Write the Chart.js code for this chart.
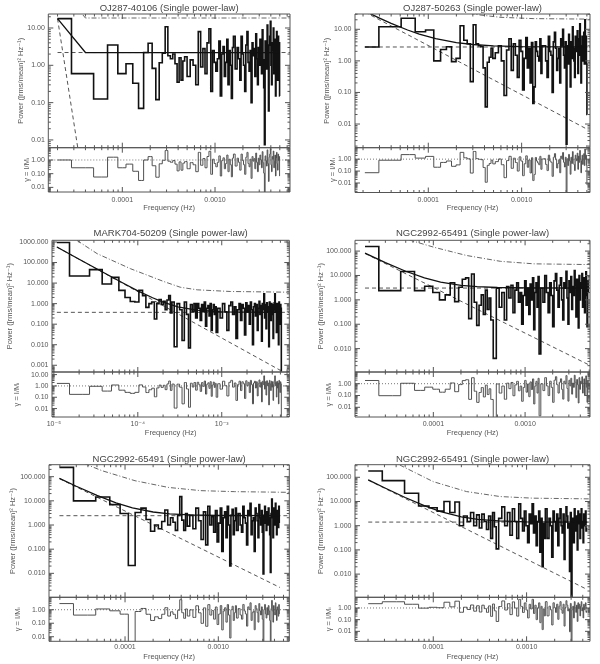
<!DOCTYPE html>
<html lang="en">
<head>
<meta charset="UTF-8">
<title>Periodograms - single power-law fits</title>
<script src="https://cdn.jsdelivr.net/npm/chart.js"></script>
<style>
  body { margin: 0; background: #fff; }
  #page { position: relative; width: 600px; height: 664px; overflow: hidden; background: #fff; }
  #page canvas { position: absolute; }
</style>
</head>
<body>
<div id="page"></div>
<script>
// titles of the six panels
const titles = [
  'OJ287-40106 (Single power-law)',
  'OJ287-50263 (Single power-law)',
  'MARK704-50209 (Single power-law)',
  'NGC2992-65491 (Single power-law)',
  'NGC2992-65491 (Single power-law)',
  'NGC2992-65491 (Single power-law)'
];

// tick values and labels
const decTicksX = [1e-4, 1e-3];
const decLabelsX = ['0.0001', '0.0010'];
const supTicksX = [1e-5, 1e-4, 1e-3];
const supLabelsX = ['10⁻⁵', '10⁻⁴', '10⁻³'];
const powTicks2 = [0.01, 0.1, 1, 10];
const powLabels2 = ['0.01', '0.10', '1.00', '10.00'];
const powTicks3 = [0.001, 0.01, 0.1, 1, 10, 100, 1000];
const powLabels3 = ['0.001', '0.010', '0.100', '1.000', '10.000', '100.000', '1000.000'];
const gamTicks = [0.01, 0.1, 1, 10];
const gamLabels = ['0.01', '0.10', '1.00', '10.00'];

// power per harmonic k = 1..24, then 26..80 by 2, then from 85 by the panel stride
// ---- panel 1 : OJ287-40106 ----
const p1F0 = 2.0e-5;
const p1Power = [17.8, 0.6, 0.125, 3.5, 0.6, 1.1, 0.33, 0.07, 2.2, 3.9, 0.83, 0.12, 1.17, 2.1, 10.8, 1.8, 1.5, 2.0, 1.1, 0.35, 1.6, 0.4, 1.3, 1.7,
  0.5, 1.4, 1.0, 0.3, 8.0, 0.9, 2.8, 0.6, 4.0, 9.5, 0.2, 2.5, 1.2, 0.7, 1.5, 4.5, 0.15, 2.0, 3.2, 0.5, 1.2, 5.0, 0.3, 2.5, 1.0, 0.13, 3.0, 6.0,
  0.8, 3.0, 1.5, 0.4, 6.0, 2.0, 1.0, 0.2, 3.5, 8.0, 1.2, 0.7, 2.5, 0.1, 4.0, 1.8, 2.8, 0.5, 7.0, 1.5,
  0.3, 3.0, 1.0, 5.0, 2.2, 0.6, 9.0, 1.4, 0.25, 0.0075, 4.5, 2.0, 0.8, 12.0, 1.2, 0.06, 3.5, 6.0, 15.0, 1.0,
  0.3, 4.0, 2.5, 10.0, 0.6, 1.8, 5.0, 0.15, 3.0, 8.0, 1.2, 0.4, 6.0, 2.0, 4.0, 0.15];
const p1Gamma = [1.0, 0.27, 0.057, 1.6, 0.27, 0.5, 0.15, 0.032, 1.0, 1.77, 0.38, 0.055, 0.53, 0.95, 4.9, 0.82, 0.68, 0.91, 0.5, 0.16, 0.73, 0.18, 0.59, 0.77,
  0.23, 0.64, 0.45, 0.14, 3.6, 0.41, 1.27, 0.27, 1.8, 4.3, 0.09, 1.14, 0.55, 0.32, 0.68, 2.0, 0.068, 0.91, 1.45, 0.23, 0.55, 2.3, 0.14, 1.14, 0.45, 0.059, 1.36, 2.7,
  0.36, 1.36, 0.68, 0.18, 2.7, 0.91, 0.45, 0.09, 1.6, 3.6, 0.55, 0.32, 1.14, 0.045, 1.8, 0.82, 1.27, 0.23, 3.2, 0.68,
  0.14, 1.36, 0.45, 2.3, 1.0, 0.27, 4.1, 0.64, 0.11, 0.0034, 2.0, 0.91, 0.36, 5.5, 0.55, 0.027, 1.6, 2.7, 6.8, 0.45,
  0.14, 1.8, 1.14, 4.5, 0.27, 0.82, 2.3, 0.068, 1.36, 3.6, 0.55, 0.18, 2.7, 0.91, 1.8, 0.068];
const p1ModelF = [2.0e-5, 4.0e-5, 5.0e-3];
const p1ModelP = [17.8, 2.2, 2.2];
const p1SlopeF = [2.0e-5, 3.6e-5];
const p1SlopeP = [17.8, 0.0016];
const p1Level = 2.2;
const p1SigF = [2.0e-5, 4.0e-5, 6.4e-3];
const p1SigP = [150, 18.5, 18.5];

// ---- panel 2 : OJ287-50263 ----
const p2F0 = 2.09e-5;
const p2Power = [2.75, 12.1, 22.3, 8.4, 9.5, 1.0, 2.3, 2.8, 0.95, 1.2, 13, 4.5, 3.5, 0.22, 14, 3.5, 3.0, 2.8, 0.6, 0.035, 0.9, 1.3, 2.5, 1.2,
  1.8, 3.0, 1.0, 0.08, 2.2, 5.0, 0.5, 3.5, 1.5, 0.3, 4.5, 2.0, 0.12, 1.2, 5.5, 0.6, 2.5, 0.2, 3.8, 0.045, 0.15, 4.0, 2.0, 1.4, 1.0, 5.0, 0.4, 3.0,
  3.0, 1.0, 0.3, 6.0, 2.0, 1.5, 0.1, 4.0, 8.0, 2.5, 0.5, 1.2, 2.5, 0.2, 5.0, 3.0, 10.0, 1.5, 0.6, 4.0,
  0.0023, 3.0, 0.8, 7.0, 2.0, 0.15, 4.0, 1.2, 12.0, 2.5, 1.0, 0.3, 6.0, 3.0, 2.0, 9.0, 0.4, 5.0, 1.5, 15.0,
  3.0, 0.2, 2.0, 6.0, 1.0, 5.0, 8.0, 0.8, 20.0, 3.0, 6.0, 0.8, 0.02];
const p2Gamma = [0.073, 0.81, 2.4, 1.22, 1.7, 0.21, 0.53, 0.7, 0.25, 0.33, 3.7, 1.3, 1.06, 0.068, 4.4, 1.1, 0.97, 0.9, 0.2, 0.0115, 0.3, 0.43, 0.83, 0.4,
  0.62, 1.03, 0.34, 0.028, 0.76, 1.72, 0.17, 1.2, 0.52, 0.1, 1.55, 0.69, 0.041, 0.41, 1.9, 0.21, 0.86, 0.069, 1.31, 0.016, 0.052, 1.38, 0.69, 0.48, 0.34, 1.72, 0.14, 1.03,
  1.08, 0.36, 0.11, 2.16, 0.72, 0.54, 0.036, 1.44, 2.9, 0.9, 0.18, 0.43, 0.9, 0.072, 1.8, 1.08, 3.6, 0.54, 0.22, 1.44,
  0.0008, 1.08, 0.29, 2.5, 0.72, 0.054, 1.44, 0.43, 4.3, 0.9, 0.36, 0.11, 2.16, 1.08, 0.72, 3.2, 0.14, 1.8, 0.54, 5.4,
  1.08, 0.072, 0.72, 2.16, 0.36, 1.8, 2.9, 0.29, 7.2, 1.08, 2.16, 0.29, 0.0072];
const p2ModelF = [2.09e-5, 3e-5, 4e-5, 6e-5, 8e-5, 1.2e-4, 2e-4, 3e-4, 5e-4, 1e-3, 5.06e-3];
const p2ModelP = [37.7, 22.7, 15.4, 9.5, 7.05, 5.04, 3.78, 3.30, 3.0, 2.83, 2.76];
const p2SlopeF = [2.09e-5, 5.06e-3];
const p2SlopeP = [35, 0.0068];
const p2Level = 2.75;
const p2SigF = [1.7e-4, 3.58e-4, 5.87e-4, 1.33e-3, 5.4e-3];
const p2SigP = [41, 28.4, 24, 21.8, 21];

// ---- panel 3 : MARK704-50209 ----
const p3F0 = 1.086e-5;
const p3Power = [950, 22, 45, 9, 19, 4.4, 2.0, 1.26, 1.2, 4.4, 2.4, 0.66, 1.0, 1.2, 0.18, 1.0, 1.6, 0.9, 1.3, 0.5, 1.5, 2.5, 0.35, 1.2,
  0.008, 1.0, 0.5, 0.016, 1.2, 0.3, 0.007, 0.9, 0.4, 1.0, 0.2, 1.0, 0.6, 0.15, 0.9, 0.4, 1.2, 0.08, 0.6, 0.8, 0.25, 1.0, 0.05, 0.5, 0.9, 0.3, 0.7, 0.04,
  0.6, 0.2, 1.0, 0.4, 0.05, 0.8, 1.2, 0.3, 0.7, 0.02, 0.5, 1.0, 0.15, 0.9, 0.6, 0.03, 1.1, 0.4, 0.8, 0.1,
  1.2, 0.5, 0.01, 0.7, 1.0, 0.25, 0.9, 0.05, 0.6, 1.3, 0.3, 0.8, 0.015, 1.0, 0.5, 3.0, 0.2, 0.9, 0.06, 1.1,
  0.4, 0.7, 0.008, 1.2, 0.6, 0.15, 1.0, 0.3, 0.9, 0.02, 0.5, 1.1, 3.0, 0.4, 0.8, 0.04, 1.0, 0.25, 0.7, 0.01,
  1.2, 0.5, 0.1, 0.9, 0.6, 0.0005];
const p3Gamma = [1.67, 0.18, 0.93, 0.35, 1.21, 0.42, 0.27, 0.22, 0.27, 1.23, 0.81, 0.26, 0.46, 0.63, 0.11, 0.67, 1.18, 0.73, 1.14, 0.47, 1.5, 2.7, 0.4, 1.46,
  0.011, 1.43, 0.77, 0.026, 2.0, 0.54, 0.013, 1.73, 0.8, 2.0, 0.42, 2.1, 1.3, 0.33, 2.0, 0.9, 2.7, 0.19, 1.4, 1.9, 0.6, 2.4, 0.12, 1.2, 2.2, 0.73, 1.7, 0.1,
  1.56, 0.52, 2.6, 1.04, 0.13, 2.08, 3.1, 0.78, 1.82, 0.052, 1.3, 2.6, 0.39, 2.34, 1.56, 0.078, 2.86, 1.04, 2.08, 0.26,
  3.1, 1.3, 0.026, 1.82, 2.6, 0.65, 2.34, 0.13, 1.56, 3.4, 0.78, 2.08, 0.039, 2.6, 1.3, 7.8, 0.52, 2.34, 0.156, 2.86,
  1.04, 1.82, 0.021, 3.1, 1.56, 0.39, 2.6, 0.78, 2.34, 0.052, 1.3, 2.86, 7.8, 1.04, 2.08, 0.104, 2.6, 0.65, 1.82, 0.026,
  3.1, 1.3, 0.26, 2.34, 1.56, 0.0013];
const p3ModelF = [1.086e-5, 2e-5, 4e-5, 7e-5, 1e-4, 1.5e-4, 2e-4, 3e-4, 5e-4, 1e-3, 5.18e-3];
const p3ModelP = [570, 145, 30.8, 9.0, 4.2, 1.93, 1.19, 0.70, 0.48, 0.40, 0.378];
const p3SlopeF = [1.086e-5, 5.18e-3];
const p3SlopeP = [570, 0.00052];
const p3Level = 0.377;
const p3SigF = [1.88e-5, 3.28e-5, 8.2e-5, 2.04e-4, 3.2e-4, 5.1e-4, 1.27e-3, 6.4e-3];
const p3SigP = [1200, 270, 50, 11.9, 6.3, 4.7, 3.9, 3.6];

// ---- panel 4 : NGC2992-65491 ----
const p4F0 = 1.8e-5;
const p4Power = [155, 2.4, 14.5, 2.4, 3.6, 2.0, 1.0, 1.6, 5.0, 0.85, 3.3, 7.0, 8.0, 0.17, 11.5, 0.8, 0.09, 0.6, 1.6, 0.25, 2.5, 0.4, 1.2, 0.15,
  0.004, 3.0, 0.5, 2.0, 0.15, 3.5, 1.2, 4.0, 0.3, 2.5, 5.0, 0.8, 2.0, 0.1, 1.5, 6.0, 0.6, 3.0, 0.25, 4.5, 1.0, 8.0, 0.06, 2.0, 5.0, 0.5, 9.0, 0.006,
  3.0, 0.8, 10.0, 2.0, 0.3, 5.0, 1.5, 0.08, 6.0, 12.0, 2.5, 0.5, 4.0, 8.0, 1.0, 0.15, 5.0, 3.0, 15.0, 1.2,
  0.1, 6.0, 2.0, 9.0, 0.4, 3.5, 1.5, 16.0, 4.0, 0.2, 7.0, 2.5, 0.07, 10.0, 1.0, 5.0, 3.0, 12.0, 0.5, 2.0,
  8.0, 0.3, 4.0, 14.0, 1.5, 0.08, 6.0, 2.0];
const p4Gamma = [1.87, 0.096, 1.09, 0.27, 0.51, 0.34, 0.19, 0.34, 1.15, 0.21, 0.84, 1.83, 2.16, 0.047, 3.2, 0.23, 0.026, 0.18, 0.47, 0.075, 0.75, 0.12, 0.37, 0.046,
  0.0013, 0.95, 0.16, 0.63, 0.048, 1.11, 0.38, 1.27, 0.095, 0.79, 1.59, 0.25, 0.63, 0.032, 0.48, 1.9, 0.19, 0.95, 0.079, 1.43, 0.32, 2.54, 0.019, 0.63, 1.59, 0.16, 2.86, 0.0019,
  0.98, 0.26, 3.27, 0.65, 0.098, 1.63, 0.49, 0.026, 1.96, 3.9, 0.82, 0.16, 1.31, 2.6, 0.33, 0.049, 1.63, 0.98, 4.9, 0.39,
  0.033, 1.96, 0.65, 2.9, 0.13, 1.14, 0.49, 5.2, 1.31, 0.065, 2.29, 0.82, 0.023, 3.27, 0.33, 1.63, 0.98, 3.9, 0.16, 0.65,
  2.6, 0.098, 1.31, 4.6, 0.49, 0.026, 1.96, 0.65];
const p4ModelF = [1.8e-5, 3e-5, 5e-5, 8e-5, 1.2e-4, 2e-4, 3e-4, 5e-4, 1e-3, 4.91e-3];
const p4ModelP = [83, 33.9, 14.9, 8.0, 5.35, 3.93, 3.46, 3.21, 3.09, 3.05];
const p4SlopeF = [1.8e-5, 4.91e-3];
const p4SlopeP = [80, 0.0022];
const p4Level = 3.05;
const p4SigF = [4.3e-5, 1e-4, 2.3e-4, 5.4e-4, 1.25e-3, 5.1e-3];
const p4SigP = [374, 146, 66, 38, 30, 28];

// ---- panel 5 : NGC2992-65491 ----
const p5F0 = 1.98e-5;
const p5Power = [243, 10, 14.5, 7.0, 3.0, 0.021, 3.3, 5.0, 1.7, 0.55, 1.0, 0.7, 1.4, 4.2, 1.0, 2.0, 1.3, 0.6, 2.5, 15, 1.6, 0.6, 3.0, 0.9,
  2.5, 0.7, 5.0, 1.5, 0.25, 3.5, 0.15, 6.0, 1.0, 2.2, 0.5, 4.0, 0.2, 1.2, 5.0, 0.08, 2.0, 3.5, 0.3, 6.0, 1.0, 0.02, 2.5, 4.5, 0.4, 1.5, 5.0, 0.6,
  3.0, 1.0, 0.5, 6.0, 2.0, 1.2, 0.15, 4.0, 2.5, 8.0, 0.4, 1.5, 2.0, 0.08, 5.0, 3.0, 1.5, 0.3, 7.0, 2.0,
  1.0, 4.0, 0.5, 0.0095, 2.5, 6.0, 1.2, 0.6, 3.5, 1.0, 5.0, 2.0, 0.4, 0.011, 3.0, 12.0, 2.0, 0.3, 5.0, 1.5,
  1.0, 8.0, 2.5, 0.4, 4.0, 2.5, 0.8, 6.0, 1.2];
const p5Gamma = [2.85, 0.4, 1.14, 0.83, 0.47, 0.004, 0.74, 1.24, 0.46, 0.16, 0.3, 0.22, 0.46, 1.41, 0.34, 0.7, 0.46, 0.22, 0.91, 5.5, 0.6, 0.23, 1.14, 0.34,
  0.98, 0.27, 1.96, 0.59, 0.098, 1.37, 0.059, 2.37, 0.4, 0.87, 0.2, 1.59, 0.08, 0.48, 2.0, 0.032, 0.8, 1.4, 0.12, 2.4, 0.4, 0.008, 1.0, 1.8, 0.16, 0.6, 2.0, 0.24,
  1.22, 0.41, 0.2, 2.45, 0.82, 0.49, 0.061, 1.63, 1.02, 3.27, 0.16, 0.61, 0.82, 0.033, 2.04, 1.22, 0.61, 0.12, 2.86, 0.82,
  0.41, 1.63, 0.2, 0.0039, 1.02, 2.45, 0.49, 0.24, 1.43, 0.41, 2.04, 0.82, 0.16, 0.004, 1.22, 4.9, 0.82, 0.12, 2.04, 0.61,
  0.41, 3.27, 1.02, 0.16, 1.63, 1.02, 0.33, 2.45, 0.49];
const p5ModelF = [1.98e-5, 3e-5, 5e-5, 8e-5, 1.2e-4, 2e-4, 3e-4, 5e-4, 1e-3, 4.58e-3];
const p5ModelP = [85.4, 40.1, 16.7, 8.26, 5.14, 3.45, 2.9, 2.61, 2.48, 2.43];
const p5SlopeF = [1.98e-5, 4.58e-3];
const p5SlopeP = [83, 0.0026];
const p5Level = 2.43;
const p5SigF = [2.92e-5, 5.66e-5, 1.28e-4, 2.9e-4, 6.5e-4, 1.5e-3, 5.77e-3];
const p5SigP = [489, 177, 68, 36, 26.4, 24, 22.5];

// ---- panel 6 : NGC2992-65491 ----
const p6F0 = 2.01e-5;
const p6Power = [182, 73, 22, 6.5, 5.5, 4.0, 10, 3.5, 9.5, 1.0, 2.5, 1.5, 3.5, 1.0, 2.8, 0.8, 3.0, 1.5, 0.7, 2.5, 0.3, 3.5, 0.9, 0.11,
  2.0, 6.0, 1.0, 3.5, 0.4, 5.0, 1.5, 0.3, 8.0, 2.0, 0.6, 4.0, 1.0, 0.2, 3.0, 1.2, 8.0, 0.5, 2.5, 0.15, 1.5, 4.0, 0.08, 2.0, 0.02, 1.2, 0.3, 5.0,
  0.3, 2.0, 1.0, 0.05, 4.0, 1.5, 0.6, 3.0, 0.15, 2.0, 5.0, 1.0, 0.5, 3.0, 0.04, 1.5, 6.0, 2.5, 0.8, 1.2,
  0.013, 3.5, 0.0005, 1.0, 2.0, 0.2, 5.0, 1.5, 0.6, 2.5, 0.1, 4.0, 1.2, 3.0, 0.3, 2.0, 5.0, 0.8, 1.5, 0.2,
  3.0, 1.0, 2.0, 4.0, 0.6, 0.8];
const p6Gamma = [2.33, 3.4, 2.08, 0.97, 1.14, 1.05, 3.1, 1.25, 3.8, 0.43, 1.16, 0.74, 1.8, 0.53, 1.54, 0.45, 1.73, 0.88, 0.42, 1.52, 0.19, 2.2, 0.57, 0.07,
  1.33, 4.0, 0.67, 2.33, 0.27, 3.33, 1.0, 0.2, 5.4, 1.36, 0.41, 2.7, 0.68, 0.14, 2.05, 0.82, 5.5, 0.34, 1.72, 0.1, 1.03, 2.76, 0.055, 1.38, 0.014, 0.83, 0.21, 3.47,
  0.21, 1.41, 0.7, 0.035, 2.8, 1.06, 0.42, 2.1, 0.106, 1.41, 3.5, 0.7, 0.35, 2.1, 0.028, 1.06, 4.2, 1.76, 0.56, 0.85,
  0.0092, 2.46, 0.00035, 0.7, 1.41, 0.14, 3.5, 1.06, 0.42, 1.76, 0.07, 2.8, 0.85, 2.1, 0.21, 1.41, 3.5, 0.56, 1.06, 0.14,
  2.1, 0.7, 1.41, 2.8, 0.42, 0.56];
const p6ModelF = [2.01e-5, 3e-5, 5e-5, 8e-5, 1.2e-4, 2e-4, 3e-4, 5e-4, 1e-3, 4.47e-3];
const p6ModelP = [78, 36.9, 14.6, 6.75, 3.85, 2.32, 1.83, 1.57, 1.45, 1.41];
const p6SlopeF = [2.01e-5, 4.47e-3];
const p6SlopeP = [76.6, 0.0023];
const p6Level = 1.41;
const p6SigF = [3.6e-5, 4.4e-5, 1e-4, 2.27e-4, 5.2e-4, 1.17e-3, 4.8e-3];
const p6SigP = [600, 318, 66, 25.7, 16, 13.7, 12.8];

Chart.defaults.font.family = "'Liberation Sans', Arial, 'DejaVu Sans', sans-serif";
Chart.defaults.font.size = 7.5;
Chart.defaults.color = '#555';

// harmonic numbers of the plotted periodogram bins
function harmonics(n, stride) {
  const k = [];
  for (let i = 1; i <= 24 && k.length < n; i++) k.push(i);
  for (let i = 26; i <= 80 && k.length < n; i += 2) k.push(i);
  for (let i = 85; k.length < n; i += stride) k.push(i);
  return k;
}

function logMarks(min, max) {
  const out = [];
  for (let e = Math.floor(Math.log10(min)); e <= Math.ceil(Math.log10(max)); e++) {
    for (let m = 1; m <= 9; m++) {
      const v = m * Math.pow(10, e);
      if (v >= min && v <= max) out.push({ v, major: m === 1 });
    }
  }
  return out;
}

// box with inward ticks on all four sides, like the IDL plots
const idlFrame = {
  id: 'idlFrame',
  afterDatasetsDraw(chart) {
    const { ctx, chartArea: a, scales: { x, y } } = chart;
    ctx.save();
    ctx.strokeStyle = '#555';
    ctx.lineWidth = 1;
    ctx.beginPath();
    ctx.rect(a.left, a.top, a.right - a.left, a.bottom - a.top);
    for (const t of logMarks(x.min, x.max)) {
      const px = x.getPixelForValue(t.v), len = t.major ? 5 : 2.5;
      ctx.moveTo(px, a.bottom); ctx.lineTo(px, a.bottom - len);
      ctx.moveTo(px, a.top); ctx.lineTo(px, a.top + len);
    }
    for (const t of logMarks(y.min, y.max)) {
      const py = y.getPixelForValue(t.v), len = t.major ? 5 : 2.5;
      ctx.moveTo(a.left, py); ctx.lineTo(a.left + len, py);
      ctx.moveTo(a.right, py); ctx.lineTo(a.right - len, py);
    }
    ctx.stroke();
    ctx.restore();
  }
};

function addCanvas(left, top, w, h) {
  const c = document.createElement('canvas');
  c.width = w; c.height = h;
  c.style.left = left + 'px';
  c.style.top = top + 'px';
  document.getElementById('page').appendChild(c);
  return c;
}

const panels = [
  { title: titles[0], f0: p1F0, stride: 3, power: p1Power, gamma: p1Gamma, modelF: p1ModelF, modelP: p1ModelP,
    slopeF: p1SlopeF, slopeP: p1SlopeP, level: p1Level, sigF: p1SigF, sigP: p1SigP,
    xTicks: decTicksX, xLabels: decLabelsX, yTicks: powTicks2, yLabels: powLabels2,
    xRange: [1.59e-5, 6.44e-3], yRange: [0.0062, 23.7], gRange: [0.0046, 7.9],
    colX: 0, rowTop: 0, plotL: 48.3, plotR: 290, chartTop: 14, mainBottom: 147.7, gammaBottom: 192,
    titleY: 8, xLabelY: 200, xTitleY: 208.3, yTitleX: 21, gTitleX: 26.7 },
  { title: titles[1], f0: p2F0, stride: 3, power: p2Power, gamma: p2Gamma, modelF: p2ModelF, modelP: p2ModelP,
    slopeF: p2SlopeF, slopeP: p2SlopeP, level: p2Level, sigF: p2SigF, sigP: p2SigP,
    xTicks: decTicksX, xLabels: decLabelsX, yTicks: powTicks2, yLabels: powLabels2,
    xRange: [1.64e-5, 5.4e-3], yRange: [0.00178, 30.5], gRange: [0.0016, 9.1],
    colX: 300, rowTop: 0, plotL: 355, plotR: 590, chartTop: 14, mainBottom: 147.7, gammaBottom: 192.5,
    titleY: 8, xLabelY: 200, xTitleY: 208.3, yTitleX: 327.3, gTitleX: 333.3 },
  { title: titles[2], f0: p3F0, stride: 6, power: p3Power, gamma: p3Gamma, modelF: p3ModelF, modelP: p3ModelP,
    slopeF: p3SlopeF, slopeP: p3SlopeP, level: p3Level, sigF: p3SigF, sigP: p3SigP,
    xTicks: supTicksX, xLabels: supLabelsX, yTicks: powTicks3, yLabels: powLabels3,
    xRange: [9.5e-6, 6.38e-3], yRange: [4.7e-4, 1210], gRange: [0.0018, 17],
    colX: 0, rowTop: 222, plotL: 52, plotR: 289.3, chartTop: 240.3, mainBottom: 372, gammaBottom: 417,
    titleY: 233.7, xLabelY: 423.7, xTitleY: 432.7, yTitleX: 10, gTitleX: 16.7 },
  { title: titles[3], f0: p4F0, stride: 4, power: p4Power, gamma: p4Gamma, modelF: p4ModelF, modelP: p4ModelP,
    slopeF: p4SlopeF, slopeP: p4SlopeP, level: p4Level, sigF: p4SigF, sigP: p4SigP,
    xTicks: decTicksX, xLabels: decLabelsX, yTicks: powTicks3, yLabels: powLabels3,
    xRange: [1.4e-5, 5.1e-3], yRange: [0.0011, 277], gRange: [0.0015, 9.8],
    colX: 300, rowTop: 222, plotL: 355, plotR: 590, chartTop: 240.3, mainBottom: 372, gammaBottom: 417,
    titleY: 233.7, xLabelY: 423.7, xTitleY: 432.7, yTitleX: 320.5, gTitleX: 328.5 },
  { title: titles[4], f0: p5F0, stride: 3, power: p5Power, gamma: p5Gamma, modelF: p5ModelF, modelP: p5ModelP,
    slopeF: p5SlopeF, slopeP: p5SlopeP, level: p5Level, sigF: p5SigF, sigP: p5SigP,
    xTicks: decTicksX, xLabels: decLabelsX, yTicks: powTicks3, yLabels: powLabels3,
    xRange: [1.53e-5, 5.77e-3], yRange: [0.00102, 313], gRange: [0.0046, 8.3],
    colX: 0, rowTop: 444, plotL: 49, plotR: 289.3, chartTop: 464.7, mainBottom: 597.3, gammaBottom: 641.3,
    titleY: 459, xLabelY: 646.7, xTitleY: 657.3, yTitleX: 12.7, gTitleX: 18.3 },
  { title: titles[5], f0: p6F0, stride: 3, power: p6Power, gamma: p6Gamma, modelF: p6ModelF, modelP: p6ModelP,
    slopeF: p6SlopeF, slopeP: p6SlopeP, level: p6Level, sigF: p6SigF, sigP: p6SigP,
    xTicks: decTicksX, xLabels: decLabelsX, yTicks: powTicks3, yLabels: powLabels3,
    xRange: [1.45e-5, 4.78e-3], yRange: [0.0011, 331], gRange: [0.0014, 8.2],
    colX: 300, rowTop: 444, plotL: 355, plotR: 590, chartTop: 464.7, mainBottom: 597.3, gammaBottom: 641.3,
    titleY: 459, xLabelY: 646.7, xTitleY: 657.3, yTitleX: 320.7, gTitleX: 329.3 }
];

const pts = (xs, ys) => xs.map((x, i) => ({ x, y: ys[i] }));
const tickFont = { size: 7 };
const inRange = (vals, lo, hi) => vals.filter(v => v >= lo && v <= hi);

function drawPanel(p) {
  const freq = harmonics(p.power.length, p.stride).map(k => k * p.f0);
  const [xMin, xMax] = p.xRange;
  const rightPad = p.colX + 300 - p.plotR;
  const yTicks = inRange(p.yTicks, p.yRange[0], p.yRange[1]);
  const xTicks = inRange(p.xTicks, xMin, xMax);
  const gTicks = inRange(gamTicks, p.gRange[0], p.gRange[1]);

  // power spectrum with the model
  const mainH = Math.ceil(p.mainBottom - p.rowTop) + 2;
  new Chart(addCanvas(p.colX, p.rowTop, 300, mainH), {
    type: 'line',
    data: {
      datasets: [
        { data: pts(p.modelF, p.modelP), borderColor: '#111', borderWidth: 1.3 },
        { data: pts(freq, p.power), stepped: 'middle', borderColor: '#111', borderWidth: 1.6 },
        { data: pts(p.slopeF, p.slopeP), borderColor: '#555', borderWidth: 1, borderDash: [4, 3] },
        { data: [{ x: p.f0, y: p.level }, { x: xMax, y: p.level }], borderColor: '#555', borderWidth: 1, borderDash: [4, 3] },
        { data: pts(p.sigF, p.sigP), borderColor: '#666', borderWidth: 1, borderDash: [5, 2, 1, 2] }
      ]
    },
    options: {
      responsive: false, animation: false, events: [],
      elements: { point: { radius: 0 }, line: { tension: 0 } },
      layout: { padding: { left: 0, right: rightPad, top: 0, bottom: mainH - (p.mainBottom - p.rowTop) } },
      plugins: {
        legend: { display: false },
        tooltip: { enabled: false },
        title: {
          display: true, text: p.title, fullSize: false, color: '#444',
          font: { size: 9.5, weight: 'normal' },
          padding: { top: p.titleY - p.rowTop - 5.7, bottom: Math.max(0, p.chartTop - p.titleY - 5.7) }
        }
      },
      scales: {
        x: {
          type: 'logarithmic', min: xMin, max: xMax,
          ticks: { display: false }, grid: { display: false }, border: { display: false },
          afterFit: s => { s.height = 0; s.paddingLeft = 0; s.paddingRight = 0; }
        },
        y: {
          type: 'logarithmic', min: p.yRange[0], max: p.yRange[1],
          afterBuildTicks: s => { s.ticks = yTicks.map(v => ({ value: v })); },
          ticks: { callback: v => p.yLabels[p.yTicks.indexOf(v)], padding: 3.5, autoSkip: false, font: tickFont },
          grid: { display: false, drawTicks: false }, border: { display: false },
          title: { display: true, text: 'Power ([rms/mean]² Hz⁻¹)', padding: { top: p.yTitleX - p.colX - 4.5, bottom: 0 } },
          afterFit: s => { s.width = p.plotL - p.colX; s.paddingTop = 0; s.paddingBottom = 0; }
        }
      }
    },
    plugins: [idlFrame]
  });

  // ratio data / model
  const gTop = Math.floor(p.mainBottom) - 2;
  const gBottom = p.rowTop + 222;
  new Chart(addCanvas(p.colX, gTop, 300, gBottom - gTop), {
    type: 'line',
    data: {
      datasets: [
        { data: pts(freq, p.gamma), stepped: 'middle', borderColor: '#505050', borderWidth: 1 },
        { data: [{ x: xMin, y: 1 }, { x: xMax, y: 1 }], borderColor: '#777', borderWidth: 1, borderDash: [1, 2] }
      ]
    },
    options: {
      responsive: false, animation: false, events: [],
      elements: { point: { radius: 0 }, line: { tension: 0 } },
      layout: { padding: { left: 0, right: rightPad, top: p.mainBottom - gTop, bottom: 0 } },
      plugins: { legend: { display: false }, tooltip: { enabled: false } },
      scales: {
        x: {
          type: 'logarithmic', min: xMin, max: xMax,
          afterBuildTicks: s => { s.ticks = xTicks.map(v => ({ value: v })); },
          ticks: { callback: v => p.xLabels[p.xTicks.indexOf(v)], padding: Math.max(0, p.xLabelY - p.gammaBottom - 4.2), autoSkip: false, maxRotation: 0, font: tickFont },
          grid: { display: false, drawTicks: false }, border: { display: false },
          title: { display: true, text: 'Frequency (Hz)', padding: { top: 0, bottom: gBottom - p.xTitleY - 4.5 } },
          afterFit: s => { s.height = gBottom - p.gammaBottom; s.paddingLeft = 0; s.paddingRight = 0; }
        },
        y: {
          type: 'logarithmic', min: p.gRange[0], max: p.gRange[1],
          afterBuildTicks: s => { s.ticks = gTicks.map(v => ({ value: v })); },
          ticks: { callback: v => gamLabels[gamTicks.indexOf(v)], padding: 3.5, autoSkip: false, font: tickFont },
          grid: { display: false, drawTicks: false }, border: { display: false },
          title: { display: true, text: 'γ = I/Mᵢ', padding: { top: p.gTitleX - p.colX - 4.5, bottom: 0 } },
          afterFit: s => { s.width = p.plotL - p.colX; s.paddingTop = 0; s.paddingBottom = 0; }
        }
      }
    },
    plugins: [idlFrame]
  });
}

panels.forEach(drawPanel);
</script>
</body>
</html>
